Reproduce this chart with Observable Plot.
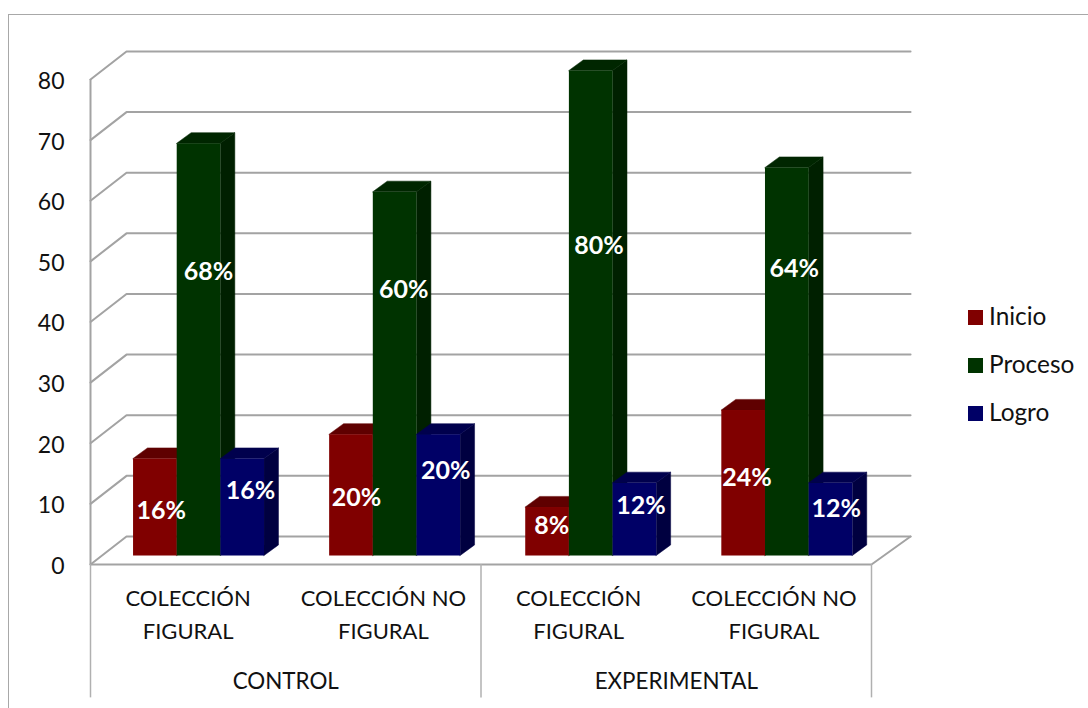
<!DOCTYPE html>
<html lang="es">
<head>
<meta charset="utf-8">
<title>Colección figural y no figural</title>
<script src="https://cdn.jsdelivr.net/npm/d3@7"></script>
<script src="https://cdn.jsdelivr.net/npm/@observablehq/plot@0.6"></script>
<style>
  html, body { margin: 0; background: #fff; }
  #chart { position: relative; width: 1088px; height: 708px; overflow: hidden; font-family: Lato, sans-serif; }
  #chart svg { display: block; position: absolute; left: 0; top: 0; background: transparent; }
  #border { position: absolute; left: 8px; top: 14px; right: 0; bottom: 0; border-left: 1px solid #a8a8a8; border-top: 1px solid #a8a8a8; }
  #legend { position: absolute; left: 968px; top: 293.5px; }
  #legend div { display: flex; align-items: center; height: 48px; font-size: 24.4px; color: #111; }
  #legend i { display: block; width: 15px; height: 15px; margin-right: 6px; }
  #legend span { position: relative; top: -2px; }
</style>
</head>
<body>
<div id="chart"><div id="border"></div></div>
<script>
const categories = ["COLECCIÓN\nFIGURAL", "COLECCIÓN NO\nFIGURAL", "COLECCIÓN\nFIGURAL", "COLECCIÓN NO\nFIGURAL"];
const groups = ["CONTROL", "EXPERIMENTAL"];
const yTicks = [0, 10, 20, 30, 40, 50, 60, 70, 80];

const inicio = [16, 20, 8, 24];
const proceso = [68, 60, 80, 64];
const logro = [16, 20, 12, 12];

// Height (in axis units) and sideways shift of each hand-placed percentage label
const inicioLabelY = [8.9, 10.9, 6.3, 14.2];
const procesoLabelY = [48.3, 45.2, 52.6, 48.7];
const logroLabelY = [12.2, 15.4, 9.7, 9.2];
const labelShift = { Inicio: 0.03, Proceso: 0.048, Logro: 0.04 };

const series = [
  { name: "Inicio", values: inicio, labelY: inicioLabelY, front: "#800000", top: "#5f0000", side: "#4c0000" },
  { name: "Proceso", values: proceso, labelY: procesoLabelY, front: "#003300", top: "#002600", side: "#002000" },
  { name: "Logro", values: logro, labelY: logroLabelY, front: "#000066", top: "#00004d", side: "#000040" }
];

// Oblique projection constants, expressed in scale units
const barStart = 0.2205;     // gap from the category edge to the first bar
const barPitch = 1.0043;     // distance between neighbouring clusters
const barWidth = 0.2236;
const depthX = 0.074;        // sideways extent of a bar's depth
const depthY = 1.75;         // upward extent of a bar's depth
const floorLift = 1.4;       // bars stand partway back on the floor
const wallX = 0.1844;        // left edge of the back wall
const wallEndX = 4.2;        // right edge of the back wall
const wallY = 4.62;          // height of the back wall's base

const gridColor = "#a3a3a3";

// One area for the side and top of each bar, one rect for its face
const barMarks = series.flatMap((s, si) => {
  const bars = s.values.map((v, c) => {
    const x1 = c * barPitch + barStart + si * barWidth;
    return { v, x1, x2: x1 + barWidth };
  });
  const side = bars.flatMap((b, i) => [
    { i, x: b.x2, y1: floorLift, y2: b.v + floorLift },
    { i, x: b.x2 + depthX, y1: floorLift + depthY, y2: b.v + floorLift + depthY }
  ]);
  const top = bars.flatMap((b, i) => [
    { i, y: b.v + floorLift, x1: b.x1, x2: b.x2 },
    { i, y: b.v + floorLift + depthY, x1: b.x1 + depthX, x2: b.x2 + depthX }
  ]);
  return [
    Plot.areaY(side, { x: "x", y1: "y1", y2: "y2", z: "i", fill: s.side, stroke: s.side, strokeWidth: 0.5 }),
    Plot.areaX(top, { y: "y", x1: "x1", x2: "x2", z: "i", fill: s.top, stroke: s.top, strokeWidth: 0.5 }),
    Plot.rect(bars, { x1: "x1", x2: "x2", y1: () => floorLift, y2: (d) => d.v + floorLift, fill: s.front })
  ];
});

const labels = series.flatMap((s, si) =>
  s.values.map((v, c) => ({
    text: `${v}%`,
    x: c + barStart + (si + 0.5) * barWidth + labelShift[s.name],
    y: s.labelY[c]
  }))
);

const wallLines = yTicks.flatMap((v) => [
  { v, x: 0, y: v },
  { v, x: wallX, y: v + wallY },
  { v, x: wallEndX, y: v + wallY }
]);

const floorFront = [
  { x: 0, y: 0 },
  { x: 4, y: 0 },
  { x: wallEndX, y: wallY }
];

const plot = Plot.plot({
  width: 1088,
  height: 708,
  marginLeft: 90,
  marginRight: 217,
  marginTop: 79,
  marginBottom: 144,
  x: { domain: [0, 4], axis: null },
  y: { domain: [0, 80] },
  style: { fontFamily: "Lato, sans-serif", background: "transparent" },
  marks: [
    Plot.line(wallLines, { x: "x", y: "y", z: "v", stroke: gridColor, strokeWidth: 2, curve: "linear" }),
    Plot.line(floorFront, { x: "x", y: "y", stroke: gridColor, strokeWidth: 2 }),
    Plot.ruleX([0], { y1: 0, y2: 80, stroke: gridColor, strokeWidth: 2 }),
    Plot.ruleX([0, 2, 4], { y1: 0, y2: -22, stroke: "#b0b0b0", strokeWidth: 1.5 }),
    Plot.axisY({ ticks: yTicks, tickSize: 0, tickPadding: 26, fontSize: 23, dy: 2, label: null, fill: "#111", tickFormat: (d) => String(d) }),
    ...barMarks,
    Plot.text(labels, { x: "x", y: "y", text: "text", fill: "white", fontSize: 25, fontWeight: 700 }),
    Plot.text(categories, { x: (d, i) => i + 0.5, y: () => 0, dy: 47, text: (d) => d, fontSize: 22, lineHeight: 1.5, fill: "#111" }),
    Plot.text(groups, { x: (d, i) => 2 * i + 1, y: () => 0, dy: 117, text: (d) => d, fontSize: 22.4, fill: "#111" })
  ]
});

const chart = document.getElementById("chart");
chart.appendChild(plot);

// Legend to the right of the plot
const legend = chart.appendChild(document.createElement("div"));
legend.id = "legend";
for (const s of series) {
  const row = legend.appendChild(document.createElement("div"));
  const swatch = row.appendChild(document.createElement("i"));
  swatch.style.background = s.front;
  row.appendChild(document.createElement("span")).textContent = s.name;
}
</script>
</body>
</html>
